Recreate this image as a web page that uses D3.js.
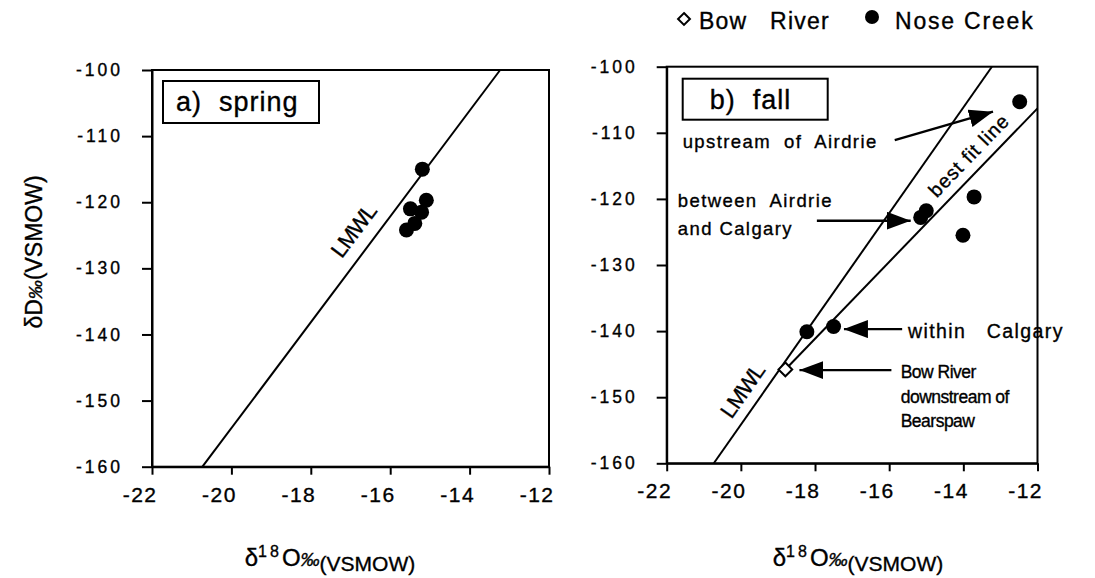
<!DOCTYPE html>
<html lang="en">
<head>
    <meta charset="UTF-8">
    <script src="https://d3js.org/d3.v7.min.js" charset="utf-8"></script>
    <title>Stable isotopes - Nose Creek</title>
    <style>
        body { margin: 0; background: white; }
        svg { font-family: "Liberation Sans", Arial, sans-serif; }
        svg text { fill: black; stroke: black; stroke-width: 0.35px; }
    </style>
</head>
<body>
<div id="chart"></div>
<script>
    const width = 1095;
    const height = 578;

    // axis ticks
    const xTicks = [-22, -20, -18, -16, -14, -12];
    const yTicks = [-100, -110, -120, -130, -140, -150, -160];

    // a) spring - Nose Creek
    const springO18 = [-15.19, -15.09, -15.49, -15.21, -15.38, -15.59];
    const springD = [-115.0, -119.7, -121.0, -121.5, -123.2, -124.2];

    // b) fall - Nose Creek
    const fallO18 = [-12.48, -15.0, -15.15, -13.71, -14.01, -17.50, -18.22];
    const fallD = [-105.3, -121.8, -122.8, -119.7, -125.5, -139.3, -140.1];

    // b) fall - Bow River
    const bowO18 = [-18.8];
    const bowD = [-145.8];

    // lines (end points)
    const lmwlO18 = [-20.73, -13.23];
    const lmwlD = [-160, -100];
    const fitO18 = [-18.8, -12];
    const fitD = [-145.8, -106.3];

    // annotations for the fall panel (data units)
    const noteText = ["upstream  of  Airdrie", "between  Airdrie", "and Calgary", "within   Calgary"];
    const noteO18 = [-21.57, -21.70, -21.70, -15.49];
    const noteD = [-112.3, -121.2, -125.5, -141.1];
    const bowNote = ["Bow River", "downstream of", "Bearspaw"];
    const bowNoteO18 = -15.69;
    const bowNoteD = [-147.1, -150.9, -154.5];

    // arrows: [fromO18, fromD, toO18, toD]
    const arrows = [
        [-15.85, -111.1, -13.2, -106.8],
        [-17.95, -123.3, -15.42, -123.3],
        [-15.65, -139.7, -17.22, -139.7],
        [-15.94, -145.9, -18.42, -145.9]
    ];

    const svg = d3.select("#chart").append("svg")
        .attr("width", width)
        .attr("height", height);

    svg.append("defs").append("marker")
        .attr("id", "head")
        .attr("markerUnits", "userSpaceOnUse")
        .attr("viewBox", "0 0 24 18")
        .attr("markerWidth", 24)
        .attr("markerHeight", 18)
        .attr("refX", 24)
        .attr("refY", 9)
        .attr("orient", "auto")
        .append("path")
        .attr("d", "M0,0 L24,9 L0,18 Z")
        .attr("fill", "black");

    const createPanel = (box) => {
        const x = d3.scaleLinear().domain([-22, -12]).range([box.left, box.right]);
        const y = d3.scaleLinear().domain([-160, -100]).range([box.bottom, box.top]);
        const g = svg.append("g");

        // frame
        g.append("rect")
            .attr("x", box.left).attr("y", box.top)
            .attr("width", box.right - box.left).attr("height", box.bottom - box.top)
            .attr("fill", "none").attr("stroke", "black").attr("stroke-width", 2);

        const yAxis = g.append("g")
            .attr("transform", `translate(${box.left},0)`)
            .call(d3.axisLeft(y).tickValues(yTicks).tickSize(10).tickSizeOuter(0).tickPadding(19));
        yAxis.selectAll("text")
            .style("font-size", "17.5px").style("letter-spacing", "3px");

        const xAxis = g.append("g")
            .attr("transform", `translate(0,${box.bottom})`)
            .call(d3.axisBottom(x).tickValues(xTicks).tickSize(8).tickSizeOuter(0).tickPadding(12));
        xAxis.selectAll("text")
            .attr("text-anchor", "end").attr("dx", "5px")
            .style("font-size", "21px").style("letter-spacing", "1.5px");

        g.selectAll(".domain").attr("stroke-width", 2);
        g.selectAll(".tick line").attr("stroke-width", 2);

        // tick labels use a hyphen like the original
        g.selectAll(".tick text").text(d => "-" + Math.abs(d));

        // label box
        g.append("rect")
            .attr("x", box.left + box.boxDx).attr("y", box.top + box.boxDy)
            .attr("width", box.boxW).attr("height", box.boxH)
            .attr("fill", "white").attr("stroke", "black").attr("stroke-width", 2);
        g.append("text")
            .attr("x", box.left + box.boxDx + box.textDx)
            .attr("y", box.top + box.boxDy + 30)
            .style("font-size", "27px").style("letter-spacing", "1px")
            .style("white-space", "pre")
            .text(box.label);

        return { g, x, y };
    };

    const angle = (x, y, xs, ys) => {
        const dx = x(xs[1]) - x(xs[0]);
        const dy = y(ys[1]) - y(ys[0]);
        return Math.atan2(dy, dx) * 180 / Math.PI;
    };

    const line = (g, x, y, xs, ys) => {
        g.append("line")
            .attr("x1", x(xs[0])).attr("y1", y(ys[0]))
            .attr("x2", x(xs[1])).attr("y2", y(ys[1]))
            .attr("stroke", "black").attr("stroke-width", 2);
    };

    const rotatedLabel = (g, x, y, px, py, rot, text, size) => {
        g.append("text")
            .attr("transform", `translate(${x(px)},${y(py)}) rotate(${rot})`)
            .attr("text-anchor", "middle")
            .attr("dominant-baseline", "middle")
            .style("font-size", size + "px")
            .style("letter-spacing", "-1px")
            .text(text);
    };

    // ---------- a) spring ----------
    const a = createPanel({ left: 152, right: 549, top: 70, bottom: 466.7,
        boxDx: 11, boxDy: 11, boxW: 156, boxH: 42, textDx: 13, label: "a)  spring" });

    line(a.g, a.x, a.y, lmwlO18, lmwlD);
    rotatedLabel(a.g, a.x, a.y, -16.89, -124.5, angle(a.x, a.y, lmwlO18, lmwlD), "LMWL", 22);

    a.g.selectAll(".dot")
        .data(springO18)
        .enter()
        .append("circle")
        .attr("cx", d => a.x(d))
        .attr("cy", (d, i) => a.y(springD[i]))
        .attr("r", 7.5)
        .attr("fill", "black");

    // ---------- b) fall ----------
    const b = createPanel({ left: 666.7, right: 1037.5, top: 66.7, bottom: 463.3,
        boxDx: 16, boxDy: 12, boxW: 145, boxH: 41, textDx: 27, label: "b)  fall" });

    line(b.g, b.x, b.y, lmwlO18, lmwlD);
    line(b.g, b.x, b.y, fitO18, fitD);
    rotatedLabel(b.g, b.x, b.y, -19.92, -149.2, angle(b.x, b.y, lmwlO18, lmwlD), "LMWL", 22);
    b.g.append("text")
        .attr("transform", `translate(${b.x(-13.82)},${b.y(-113.6)}) rotate(${angle(b.x, b.y, fitO18, fitD)})`)
        .attr("text-anchor", "middle")
        .attr("dominant-baseline", "middle")
        .style("font-size", "19.5px")
        .style("letter-spacing", "1px")
        .text("best fit line");

    b.g.selectAll(".dot")
        .data(fallO18)
        .enter()
        .append("circle")
        .attr("cx", d => b.x(d))
        .attr("cy", (d, i) => b.y(fallD[i]))
        .attr("r", 7.5)
        .attr("fill", "black");

    const diamond = d3.symbol().type(d3.symbolDiamond2).size(120);
    b.g.selectAll(".bow")
        .data(bowO18)
        .enter()
        .append("path")
        .attr("d", diamond)
        .attr("transform", (d, i) => `translate(${b.x(d)},${b.y(bowD[i])})`)
        .attr("fill", "white")
        .attr("stroke", "black")
        .attr("stroke-width", 2);

    // arrows
    b.g.selectAll(".arrow")
        .data(arrows)
        .enter()
        .append("line")
        .attr("x1", d => b.x(d[0])).attr("y1", d => b.y(d[1]))
        .attr("x2", d => b.x(d[2])).attr("y2", d => b.y(d[3]))
        .attr("stroke", "black").attr("stroke-width", 2.4)
        .attr("marker-end", "url(#head)");

    b.g.selectAll(".note")
        .data(noteText)
        .enter()
        .append("text")
        .attr("x", (d, i) => b.x(noteO18[i]))
        .attr("y", (d, i) => b.y(noteD[i]))
        .style("font-size", (d, i) => i === 3 ? "19.5px" : "18.5px")
        .style("letter-spacing", "1.4px")
        .style("white-space", "pre")
        .text(d => d);

    b.g.selectAll(".bownote")
        .data(bowNote)
        .enter()
        .append("text")
        .attr("x", b.x(bowNoteO18))
        .attr("y", (d, i) => b.y(bowNoteD[i]))
        .style("font-size", "17.5px")
        .style("letter-spacing", "-0.5px")
        .text(d => d);

    // ---------- axis titles ----------
    const yTitle = svg.append("text")
        .attr("transform", "translate(42,252) rotate(-90)")
        .attr("text-anchor", "middle")
        .style("font-size", "23px");
    yTitle.append("tspan").text("δD");
    yTitle.append("tspan").style("font-style", "italic").style("font-size", "19px").text("‰");
    yTitle.append("tspan").text("(VSMOW)");

    const xTitle = (cx) => {
        const t = svg.append("text")
            .attr("x", cx).attr("y", 566)
            .attr("text-anchor", "middle")
            .style("font-size", "24px");
        t.append("tspan").text("δ");
        t.append("tspan").attr("dy", "-9px").style("font-size", "16px").style("letter-spacing", "3px").text("18");
        t.append("tspan").attr("dy", "9px").text("O");
        t.append("tspan").style("font-style", "italic").style("font-size", "19px").text("‰");
        t.append("tspan").attr("dy", "5px").style("font-size", "21px").text("(VSMOW)");
    };
    xTitle(330);
    xTitle(858);

    // ---------- legend ----------
    const legend = svg.append("g");
    legend.append("path")
        .attr("d", d3.symbol().type(d3.symbolDiamond2).size(90))
        .attr("transform", "translate(684,19)")
        .attr("fill", "white").attr("stroke", "black").attr("stroke-width", 2);
    legend.append("text")
        .attr("x", 699).attr("y", 29)
        .style("font-size", "23px").style("letter-spacing", "1.2px")
        .style("white-space", "pre")
        .text("Bow   River");
    legend.append("circle")
        .attr("cx", 872).attr("cy", 17).attr("r", 7)
        .attr("fill", "black");
    legend.append("text")
        .attr("x", 895).attr("y", 29)
        .style("font-size", "23px").style("letter-spacing", "1.8px")
        .text("Nose Creek");
</script>
</body>
</html>
